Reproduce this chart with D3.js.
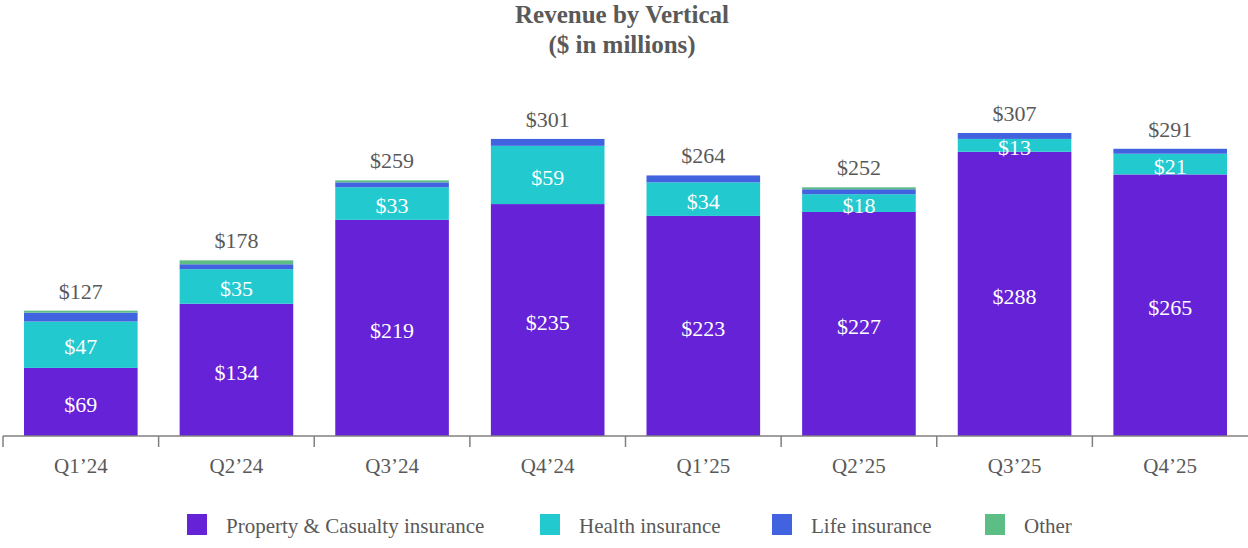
<!DOCTYPE html>
<html>
<head>
<meta charset="utf-8">
<script src="https://cdn.jsdelivr.net/npm/d3@7"></script>
<style>
  body { margin: 0; background: #fff; }
  svg text { font-family: "Liberation Serif", "Times New Roman", serif; }
</style>
</head>
<body>
<svg id="chart" width="1248" height="548"></svg>
<script>
// data ($ millions)
const quarters = ["Q1\u201924", "Q2\u201924", "Q3\u201924", "Q4\u201924", "Q1\u201925", "Q2\u201925", "Q3\u201925", "Q4\u201925"]
const propertyCasualty = [69, 134, 219, 235, 223, 227, 288, 265]
const health = [47, 35, 33, 59, 34, 18, 13, 21]
const life = [9, 5, 5, 7, 7, 5, 6, 5]
const other = [2, 4, 2, 0, 0, 2, 0, 0]
const totals = [127, 178, 259, 301, 264, 252, 307, 291]

const seriesNames = ["Property & Casualty insurance", "Health insurance", "Life insurance", "Other"]
const colors = ["#6622d6", "#22c9cf", "#4263e0", "#5cbd85"]

const width = 1248, height = 548
const svg = d3.select('#chart')

const rows = quarters.map((q, i) => ({
    q: q, pc: propertyCasualty[i], health: health[i], life: life[i], other: other[i], total: totals[i]
}))
const keys = ["pc", "health", "life", "other"]
const stacked = d3.stack().keys(keys)(rows)

const x = d3.scaleBand()
    .domain(quarters)
    .range([3, 1248])
    .paddingInner(0.27)
    .paddingOuter(0.135)

const y = d3.scaleLinear()
    .domain([0, 307])
    .range([436, 133])

// title
svg.append('text')
    .attr('x', 622).attr('y', 23)
    .attr('text-anchor', 'middle')
    .attr('font-size', 25).attr('font-weight', 'bold')
    .attr('fill', '#595959')
    .text('Revenue by Vertical')
svg.append('text')
    .attr('x', 622).attr('y', 53)
    .attr('text-anchor', 'middle')
    .attr('font-size', 25).attr('font-weight', 'bold')
    .attr('fill', '#595959')
    .text('($ in millions)')

// bars
svg.append('g')
    .selectAll('g')
    .data(stacked)
    .join('g')
    .attr('fill', (d, i) => colors[i])
    .selectAll('rect')
    .data(d => d)
    .join('rect')
    .attr('x', d => x(d.data.q))
    .attr('width', x.bandwidth())
    .attr('y', d => y(d[1]))
    .attr('height', d => y(d[0]) - y(d[1]))

// labels inside bars (P&C and Health)
stacked.slice(0, 2).forEach(s => {
    svg.append('g')
        .selectAll('text')
        .data(s)
        .join('text')
        .attr('x', d => x(d.data.q) + x.bandwidth() / 2)
        .attr('y', d => (y(d[0]) + y(d[1])) / 2 + 2)
        .attr('dy', '0.35em')
        .attr('text-anchor', 'middle')
        .attr('font-size', 22)
        .attr('fill', '#fff')
        .text(d => '$' + (d[1] - d[0]))
})

// total labels
svg.append('g')
    .selectAll('text')
    .data(rows)
    .join('text')
    .attr('x', d => x(d.q) + x.bandwidth() / 2)
    .attr('y', d => y(d.total) - 12)
    .attr('text-anchor', 'middle')
    .attr('font-size', 22)
    .attr('fill', '#595959')
    .text(d => '$' + d.total)

// x axis
const axisG = svg.append('g').attr('transform', 'translate(0,436)')
axisG.append('line')
    .attr('x1', 3).attr('x2', 1248)
    .attr('stroke', '#808080').attr('stroke-width', 1.5)
const step = x.step()
const edges = quarters.map(q => x(q) - step * x.paddingInner() / 2)
axisG.selectAll('line.tick')
    .data(edges)
    .join('line')
    .attr('class', 'tick')
    .attr('x1', d => d).attr('x2', d => d)
    .attr('y1', 0).attr('y2', 11)
    .attr('stroke', '#808080').attr('stroke-width', 1.5)
axisG.selectAll('text')
    .data(quarters)
    .join('text')
    .attr('x', d => x(d) + x.bandwidth() / 2)
    .attr('y', 37)
    .attr('text-anchor', 'middle')
    .attr('font-size', 21)
    .attr('fill', '#595959')
    .text(d => d)

// legend
const legendX = [187, 540, 772, 985]
const legend = svg.append('g')
    .selectAll('g')
    .data(seriesNames)
    .join('g')
    .attr('transform', (d, i) => `translate(${legendX[i]},514)`)
legend.append('rect')
    .attr('width', 20).attr('height', 21)
    .attr('fill', (d, i) => colors[i])
legend.append('text')
    .attr('x', 39).attr('y', 19)
    .attr('font-size', 21)
    .attr('fill', '#595959')
    .text(d => d)
</script>
</body>
</html>
